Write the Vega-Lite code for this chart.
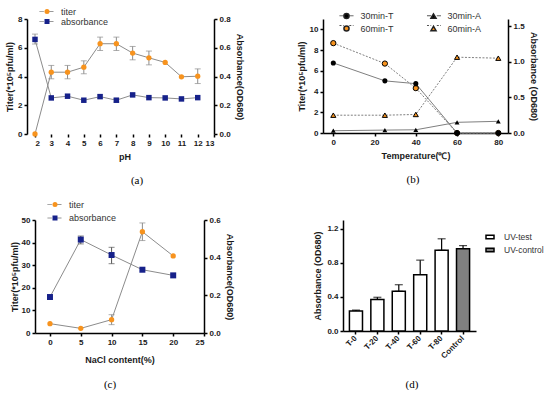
{
  "$schema": "https://vega.github.io/schema/vega-lite/v6.json",
  "padding": {"left": 5, "top": 7, "right": 0, "bottom": 0},
  "spacing": 14,
  "resolve": {"scale": {"color": "independent", "shape": "independent", "fill": "independent", "strokeDash": "independent"}, "legend": {"color": "independent", "shape": "independent", "fill": "independent", "strokeDash": "independent"}},
  "config": {
    "view": {"stroke": null},
    "font": "Liberation Sans",
    "axis": {"grid": false, "domainColor": "#000", "domainWidth": 1.5, "tickColor": "#000", "tickWidth": 1.5, "tickSize": 3, "labelFont": "Liberation Sans", "labelFontSize": 8, "labelFontWeight": "bold", "labelColor": "#1a1a1a", "labelPadding": 2, "labelOverlap": false, "titleFont": "Liberation Sans", "titleFontSize": 9, "titleFontWeight": "bold", "titleColor": "#1a1a1a"},
    "legend": {"labelFont": "Liberation Sans", "labelFontSize": 9, "labelColor": "#333", "padding": 0, "rowPadding": 0, "labelOffset": 9.5},
    "title": {"font": "Liberation Serif", "fontSize": 11, "fontWeight": "normal", "color": "#000", "orient": "bottom", "frame": "group", "anchor": "middle"}
  },
  "vconcat": [
    {
      "hconcat": [
        {
          "width": 179, "height": 115,
          "title": {"text": "(a)", "dx": 12.5, "offset": 14},
          "data": {"values": [
            {"pH": 2, "titer": 0, "tlo": null, "thi": null, "abs": 0.658, "alo": 0.626, "ahi": 0.695},
            {"pH": 3, "titer": 4.30, "tlo": 3.84, "thi": 4.77, "abs": 0.251, "alo": null, "ahi": null},
            {"pH": 4, "titer": 4.30, "tlo": 3.84, "thi": 4.77, "abs": 0.263, "alo": null, "ahi": null},
            {"pH": 5, "titer": 4.65, "tlo": 4.19, "thi": 5.09, "abs": 0.235, "alo": null, "ahi": null},
            {"pH": 6, "titer": 6.28, "tlo": 5.81, "thi": 6.74, "abs": 0.260, "alo": 0.248, "ahi": 0.272},
            {"pH": 7, "titer": 6.28, "tlo": 5.81, "thi": 6.74, "abs": 0.235, "alo": 0.222, "ahi": 0.248},
            {"pH": 8, "titer": 5.63, "tlo": 5.16, "thi": 6.09, "abs": 0.272, "alo": null, "ahi": null},
            {"pH": 9, "titer": 5.30, "tlo": 4.81, "thi": 5.77, "abs": 0.253, "alo": null, "ahi": null},
            {"pH": 10, "titer": 4.98, "tlo": null, "thi": null, "abs": 0.251, "alo": null, "ahi": null},
            {"pH": 11, "titer": 3.98, "tlo": null, "thi": null, "abs": 0.244, "alo": null, "ahi": null},
            {"pH": 12, "titer": 4.02, "tlo": 3.51, "thi": 4.53, "abs": 0.253, "alo": null, "ahi": null}
          ]},
          "encoding": {"x": {"field": "pH", "type": "quantitative", "scale": {"domain": [2, 13], "nice": false, "zero": false}, "axis": {"title": "pH", "values": [2,3,4,5,6,7,8,9,10,11,12,13], "titlePadding": 5, "domain": false}}},
          "layer": [
            {"data": {"values": [{}]}, "mark": {"type": "rule", "color": "#000", "strokeWidth": 1.5},
             "encoding": {"x": {"datum": 1.56}, "x2": {"datum": 13}, "y": {"datum": 0, "scale": {"domain": [0, 1]}, "axis": null}}},
            {"layer": [
              {"mark": {"type": "line", "color": "#8c8c8c", "strokeWidth": 1}, "encoding": {"y": {"field": "titer", "type": "quantitative", "scale": {"domain": [0, 8]}, "title": "Titer(*10⁵pfu/ml)", "axis": {"values": [0,2,4,6,8], "titlePadding": 3, "offset": 8}}}},
              {"mark": {"type": "errorbar", "color": "#8c8c8c", "thickness": 1, "ticks": {"size": 6, "color": "#8c8c8c", "thickness": 1}}, "encoding": {"y": {"field": "tlo", "type": "quantitative", "title": "Titer(*10⁵pfu/ml)", "axis": {"values": [0,2,4,6,8], "titlePadding": 3, "offset": 8}}, "y2": {"field": "thi"}}},
              {"mark": {"type": "point", "shape": "circle", "filled": true, "size": 28, "color": "#F7931E", "opacity": 1}, "encoding": {"y": {"field": "titer", "type": "quantitative", "title": "Titer(*10⁵pfu/ml)", "axis": {"values": [0,2,4,6,8], "titlePadding": 3, "offset": 8}}}}
            ]},
            {"layer": [
              {"mark": {"type": "line", "color": "#8c8c8c", "strokeWidth": 1}, "encoding": {"y": {"field": "abs", "type": "quantitative", "scale": {"domain": [0, 0.8]}, "title": "Absorbance(OD680)", "axis": {"orient": "right", "values": [0,0.2,0.4,0.6,0.8], "format": ".1f", "titlePadding": 4}}}},
              {"mark": {"type": "errorbar", "color": "#8c8c8c", "thickness": 1, "ticks": {"size": 6, "color": "#8c8c8c", "thickness": 1}}, "encoding": {"y": {"field": "alo", "type": "quantitative", "title": "Absorbance(OD680)", "axis": {"orient": "right", "values": [0,0.2,0.4,0.6,0.8], "format": ".1f", "titlePadding": 4}}, "y2": {"field": "ahi"}}},
              {"mark": {"type": "point", "shape": "square", "filled": true, "size": 30, "color": "#16218A", "opacity": 1}, "encoding": {"y": {"field": "abs", "type": "quantitative", "title": "Absorbance(OD680)", "axis": {"orient": "right", "values": [0,0.2,0.4,0.6,0.8], "format": ".1f", "titlePadding": 4}}}}
            ]},
            {"transform": [{"filter": "false"}], "mark": {"type": "point", "filled": false, "opacity": 1, "stroke": "#8c8c8c", "strokeWidth": 1},
             "encoding": {
               "strokeDash": {"field": "s2", "type": "nominal", "scale": {"domain": ["titer-line", "absorbance-line"], "range": [[1, 0], [1, 0]]}, "legend": {"title": null, "orient": "none", "legendX": 7, "legendY": -12, "symbolSize": 25, "symbolType": "M-2.8,0H-1.05M1.05,0H2.8", "symbolStrokeColor": "#8c8c8c", "symbolStrokeWidth": 1, "labelExpr": "' '"}}
             }},
            {"transform": [{"filter": "false"}], "mark": {"type": "point", "filled": true, "opacity": 1, "strokeWidth": 0},
             "encoding": {
               "color": {"field": "s", "type": "nominal", "scale": {"domain": ["titer", "absorbance"], "range": ["#F7931E", "#16218A"]}, "legend": {"title": null, "orient": "none", "legendX": 7.5, "legendY": -12, "symbolSize": 25}},
               "shape": {"field": "s", "type": "nominal", "scale": {"domain": ["titer", "absorbance"], "range": ["circle", "square"]}, "legend": {"title": null, "orient": "none", "legendX": 7.5, "legendY": -12, "symbolSize": 25}}
             }}
          ],
          "resolve": {"scale": {"y": "independent"}}
        },
        {
          "width": 185, "height": 114,
          "title": {"text": "(b)", "dx": -2.5, "offset": 14},
          "data": {"values": [
            {"temp": 0, "t30": 6.76, "t60": 8.67, "a30": 0.032, "a60": 0.25},
            {"temp": 25, "t30": 5.03, "t60": 6.70, "a30": 0.041, "a60": 0.25},
            {"temp": 40, "t30": 4.76, "t60": 4.33, "a30": 0.045, "a60": 0.26},
            {"temp": 60, "t30": 0, "t60": 0, "a30": 0.15, "a60": 1.064},
            {"temp": 80, "t30": 0, "t60": 0, "a30": 0.164, "a60": 1.05}
          ]},
          "encoding": {"x": {"field": "temp", "type": "quantitative", "scale": {"domain": [-5, 84.7], "nice": false, "zero": false}, "axis": {"title": "Temperature(℃)", "values": [0,20,40,60,80], "titlePadding": 5}}},
          "layer": [
            {"layer": [
              {"mark": {"type": "line", "color": "#7f7f7f", "strokeWidth": 1, "strokeDash": [2, 1.5]}, "encoding": {"y": {"field": "t60", "type": "quantitative", "scale": {"domain": [0, 10.36]}, "title": "Titer(*10⁵pfu/ml)", "axis": {"values": [0,2,4,6,8,10], "titlePadding": 3}}}},
              {"mark": {"type": "line", "color": "#7f7f7f", "strokeWidth": 1}, "encoding": {"y": {"field": "t30", "type": "quantitative", "title": "Titer(*10⁵pfu/ml)", "axis": {"values": [0,2,4,6,8,10], "titlePadding": 3}}}},
              {"mark": {"type": "point", "shape": "circle", "filled": true, "size": 28, "color": "#F7931E", "stroke": "#000", "strokeWidth": 1, "opacity": 1}, "encoding": {"y": {"field": "t60", "type": "quantitative", "title": "Titer(*10⁵pfu/ml)", "axis": {"values": [0,2,4,6,8,10], "titlePadding": 3}}}},
              {"mark": {"type": "point", "shape": "circle", "filled": true, "size": 26, "color": "#000", "opacity": 1}, "encoding": {"y": {"field": "t30", "type": "quantitative", "title": "Titer(*10⁵pfu/ml)", "axis": {"values": [0,2,4,6,8,10], "titlePadding": 3}}}}
            ]},
            {"layer": [
              {"mark": {"type": "line", "color": "#7f7f7f", "strokeWidth": 1, "strokeDash": [2, 1.5]}, "encoding": {"y": {"field": "a60", "type": "quantitative", "scale": {"domain": [0, 1.554]}, "title": "Absorbance (OD680)", "axis": {"orient": "right", "values": [0, 0.5, 1, 1.5], "format": ".1f", "titlePadding": 4}}}},
              {"mark": {"type": "line", "color": "#7f7f7f", "strokeWidth": 1}, "encoding": {"y": {"field": "a30", "type": "quantitative", "title": "Absorbance (OD680)", "axis": {"orient": "right", "values": [0, 0.5, 1, 1.5], "format": ".1f", "titlePadding": 4}}}},
              {"mark": {"type": "point", "shape": "triangle-up", "filled": true, "size": 26, "color": "#F7931E", "stroke": "#000", "strokeWidth": 1, "opacity": 1}, "encoding": {"y": {"field": "a60", "type": "quantitative", "title": "Absorbance (OD680)", "axis": {"orient": "right", "values": [0, 0.5, 1, 1.5], "format": ".1f", "titlePadding": 4}}}},
              {"mark": {"type": "point", "shape": "triangle-up", "filled": true, "size": 24, "color": "#000", "opacity": 1}, "encoding": {"y": {"field": "a30", "type": "quantitative", "title": "Absorbance (OD680)", "axis": {"orient": "right", "values": [0, 0.5, 1, 1.5], "format": ".1f", "titlePadding": 4}}}}
            ]},
            {"transform": [{"filter": "false"}], "mark": {"type": "point", "filled": false, "opacity": 1, "stroke": "#555", "strokeWidth": 1},
             "encoding": {
               "strokeDash": {"field": "s2", "type": "nominal", "scale": {"domain": ["30min-T-line", "60min-T-line", "30min-A-line", "60min-A-line"], "range": [[1, 0], [2, 1.5], [1, 0], [2, 1.5]]}, "legend": {"title": null, "orient": "none", "legendX": 19, "legendY": -8, "columns": 2, "columnPadding": 63.5, "symbolSize": 26, "symbolType": "M-2.75,0H-1.1M1.1,0H2.75", "symbolStrokeColor": "#555", "symbolStrokeWidth": 1, "labelExpr": "' '"}}
             }},
            {"transform": [{"filter": "false"}], "mark": {"type": "point", "filled": true, "opacity": 1, "stroke": "#222", "strokeWidth": 0.8},
             "encoding": {
               "color": {"field": "s", "type": "nominal", "scale": {"domain": ["30min-T", "60min-T", "30min-A", "60min-A"], "range": ["#000", "#F7931E", "#000", "#F7931E"]}, "legend": {"title": null, "orient": "none", "legendX": 19, "legendY": -8, "columns": 2, "columnPadding": 33, "symbolSize": 26}},
               "shape": {"field": "s", "type": "nominal", "scale": {"domain": ["30min-T", "60min-T", "30min-A", "60min-A"], "range": ["circle", "circle", "triangle-up", "triangle-up"]}, "legend": {"title": null, "orient": "none", "legendX": 19, "legendY": -8, "columns": 2, "columnPadding": 33, "symbolSize": 26}}
             }}
          ],
          "resolve": {"scale": {"y": "independent"}}
        }
      ],
      "bounds": "flush",
      "spacing": 109,
      "resolve": {"scale": {"color": "independent", "shape": "independent", "strokeDash": "independent"}, "legend": {"color": "independent", "shape": "independent", "strokeDash": "independent"}}
    },
    {
      "hconcat": [
        {
          "width": 169, "height": 113,
          "title": {"text": "(c)", "dx": -9.5, "offset": 15},
          "data": {"values": [
            {"nacl": 0, "titer": 4.13, "tlo": null, "thi": null, "abs": 0.191, "alo": null, "ahi": null},
            {"nacl": 5, "titer": 2.06, "tlo": null, "thi": null, "abs": 0.496, "alo": 0.473, "ahi": 0.515},
            {"nacl": 10, "titer": 5.9, "tlo": 3.7, "thi": 8.1, "abs": 0.414, "alo": 0.368, "ahi": 0.455},
            {"nacl": 15, "titer": 44.8, "tlo": 40.9, "thi": 48.7, "abs": 0.336, "alo": null, "ahi": null},
            {"nacl": 20, "titer": 34.1, "tlo": null, "thi": null, "abs": 0.306, "alo": null, "ahi": null}
          ]},
          "encoding": {"x": {"field": "nacl", "type": "quantitative", "scale": {"domain": [-2.43, 25], "nice": false, "zero": false}, "axis": {"title": "NaCl content(%)", "values": [0,5,10,15,20,25], "titlePadding": 9}}},
          "layer": [
            {"layer": [
              {"mark": {"type": "line", "color": "#8c8c8c", "strokeWidth": 1}, "encoding": {"y": {"field": "titer", "type": "quantitative", "scale": {"domain": [0, 50]}, "title": "Titer(*10⁵pfu/ml)", "axis": {"values": [0,10,20,30,40,50], "titlePadding": 2}}}},
              {"mark": {"type": "errorbar", "color": "#8c8c8c", "thickness": 1, "ticks": {"size": 6, "color": "#8c8c8c", "thickness": 1}}, "encoding": {"y": {"field": "tlo", "type": "quantitative", "title": "Titer(*10⁵pfu/ml)", "axis": {"values": [0,10,20,30,40,50], "titlePadding": 2}}, "y2": {"field": "thi"}}},
              {"mark": {"type": "point", "shape": "circle", "filled": true, "size": 28, "color": "#F7931E", "opacity": 1}, "encoding": {"y": {"field": "titer", "type": "quantitative", "title": "Titer(*10⁵pfu/ml)", "axis": {"values": [0,10,20,30,40,50], "titlePadding": 2}}}}
            ]},
            {"layer": [
              {"mark": {"type": "line", "color": "#8c8c8c", "strokeWidth": 1}, "encoding": {"y": {"field": "abs", "type": "quantitative", "scale": {"domain": [0, 0.6]}, "title": "Absorbance(OD680)", "axis": {"orient": "right", "values": [0,0.2,0.4,0.6], "format": ".1f", "titlePadding": 4}}}},
              {"mark": {"type": "errorbar", "color": "#555", "thickness": 1, "ticks": {"size": 6, "color": "#555", "thickness": 1}}, "encoding": {"y": {"field": "alo", "type": "quantitative", "title": "Absorbance(OD680)", "axis": {"orient": "right", "values": [0,0.2,0.4,0.6], "format": ".1f", "titlePadding": 4}}, "y2": {"field": "ahi"}}},
              {"mark": {"type": "point", "shape": "square", "filled": true, "size": 36, "color": "#16218A", "opacity": 1}, "encoding": {"y": {"field": "abs", "type": "quantitative", "title": "Absorbance(OD680)", "axis": {"orient": "right", "values": [0,0.2,0.4,0.6], "format": ".1f", "titlePadding": 4}}}}
            ]},
            {"transform": [{"filter": "false"}], "mark": {"type": "point", "filled": false, "opacity": 1, "stroke": "#8c8c8c", "strokeWidth": 1},
             "encoding": {
               "strokeDash": {"field": "s2", "type": "nominal", "scale": {"domain": ["titer-line", "absorbance-line"], "range": [[1, 0], [1, 0]]}, "legend": {"title": null, "orient": "none", "legendX": 15, "legendY": -20, "rowPadding": 3.5, "symbolSize": 25, "symbolType": "M-2.8,0H-1.05M1.05,0H2.8", "symbolStrokeColor": "#8c8c8c", "symbolStrokeWidth": 1, "labelExpr": "' '"}}
             }},
            {"transform": [{"filter": "false"}], "mark": {"type": "point", "filled": true, "opacity": 1, "strokeWidth": 0},
             "encoding": {
               "color": {"field": "s", "type": "nominal", "scale": {"domain": ["titer", "absorbance"], "range": ["#F7931E", "#16218A"]}, "legend": {"title": null, "orient": "none", "legendX": 15.5, "legendY": -20, "rowPadding": 3.5, "symbolSize": 25}},
               "shape": {"field": "s", "type": "nominal", "scale": {"domain": ["titer", "absorbance"], "range": ["circle", "square"]}, "legend": {"title": null, "orient": "none", "legendX": 15.5, "legendY": -20, "rowPadding": 3.5, "symbolSize": 25}}
             }}
          ],
          "resolve": {"scale": {"y": "independent"}}
        },
        {
          "width": 133, "height": 111,
          "title": {"text": "(d)", "dx": 2.5, "offset": 19},
          "data": {"values": [
            {"cond": "T-0", "group": "UV-test", "od": 0.234, "hi": 0.245},
            {"cond": "T-20", "group": "UV-test", "od": 0.37, "hi": 0.395},
            {"cond": "T-40", "group": "UV-test", "od": 0.465, "hi": 0.542},
            {"cond": "T-60", "group": "UV-test", "od": 0.659, "hi": 0.83},
            {"cond": "T-80", "group": "UV-test", "od": 0.945, "hi": 1.08},
            {"cond": "Control", "group": "UV-control", "od": 0.963, "hi": 1.0}
          ]},
          "encoding": {"x": {"field": "cond", "type": "nominal", "sort": null, "scale": {"paddingInner": 0.39, "paddingOuter": 0.3}, "axis": {"title": null, "labelAngle": -45, "labelAlign": "right", "labelBaseline": "middle", "labelPadding": 3}}},
          "layer": [
            {"mark": {"type": "errorbar", "color": "#000", "thickness": 1.2, "ticks": {"size": 8, "color": "#000", "thickness": 1.2}}, "encoding": {"y": {"field": "od", "type": "quantitative", "scale": {"domain": [0, 1.218]}, "title": "Absorbance (OD680)", "axis": {"values": [0, 0.4, 0.8, 1.2], "format": ".1f", "titlePadding": 4}}, "y2": {"field": "hi"}}},
            {"mark": {"type": "bar", "stroke": "#000", "strokeWidth": 1.5},
             "encoding": {"y": {"field": "od", "type": "quantitative", "title": "Absorbance (OD680)", "axis": {"values": [0, 0.4, 0.8, 1.2], "format": ".1f", "titlePadding": 4}},
               "fill": {"field": "group", "type": "nominal", "scale": {"domain": ["UV-test", "UV-control"], "range": ["#ffffff", "#808080"]}, "legend": {"title": null, "orient": "none", "legendX": 142, "legendY": 12, "rowPadding": 3, "symbolSize": 64, "symbolStrokeColor": "#000", "symbolStrokeWidth": 1.5, "symbolType": "M-1,-0.45H1V0.45H-1Z", "labelFontSize": 8.5, "labelOffset": 9}}}}
          ]
        }
      ],
      "bounds": "flush",
      "spacing": 139,
      "resolve": {"scale": {"color": "independent", "shape": "independent", "fill": "independent", "strokeDash": "independent"}, "legend": {"color": "independent", "shape": "independent", "fill": "independent", "strokeDash": "independent"}}
    }
  ]
}
